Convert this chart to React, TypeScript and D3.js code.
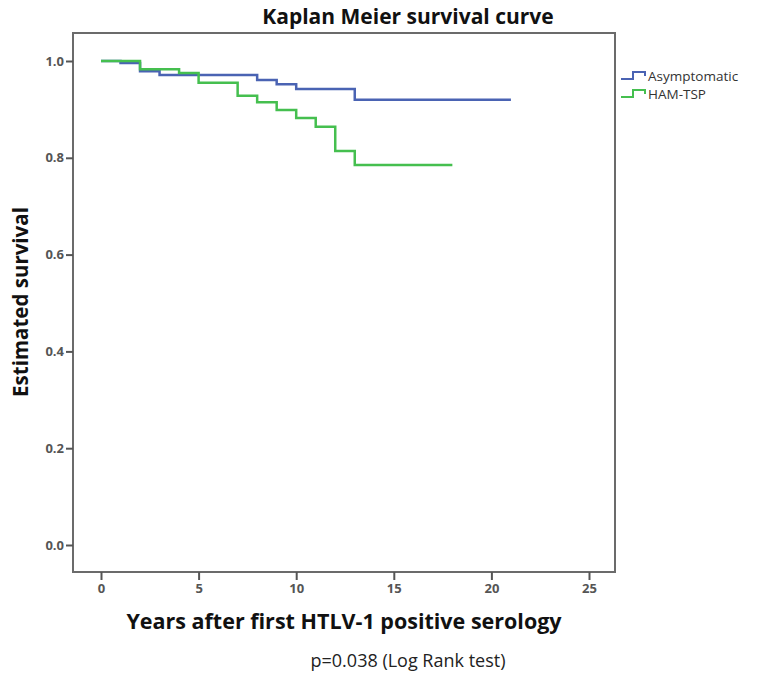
import { useEffect, useRef } from "react";
import * as d3 from "d3";

// Kaplan-Meier step values (time in years, survival)
const asymTimes = [0, 1, 2, 3, 8, 9, 10, 13, 21];
const asymSurv = [1.0, 0.996, 0.979, 0.971, 0.961, 0.952, 0.942, 0.92, 0.92];

const hamTimes = [0, 2, 4, 5, 7, 8, 9, 10, 11, 12, 13, 18];
const hamSurv = [
  1.0, 0.983, 0.975, 0.955, 0.928, 0.915, 0.899, 0.882, 0.864, 0.814, 0.785,
  0.785,
];

const xTicks = [0, 5, 10, 15, 20, 25];
const yTicks = [0, 0.2, 0.4, 0.6, 0.8, 1.0];

const groups = [
  { name: "Asymptomatic", color: "#4a63b3", times: asymTimes, surv: asymSurv },
  { name: "HAM-TSP", color: "#45bf4f", times: hamTimes, surv: hamSurv },
];

const FONT = "'Open Sans', 'DejaVu Sans', sans-serif";

export default function App() {
  const svgRef = useRef<SVGSVGElement>(null);

  useEffect(() => {
    if (!svgRef.current) return;
    const svg = d3.select(svgRef.current);
    svg.selectAll("*").remove();

    const box = { left: 73, right: 615, top: 33, bottom: 572 };

    const x = d3.scaleLinear().domain([0, 25]).range([101, 589]);
    const y = d3.scaleLinear().domain([0, 1]).range([545, 61]);

    // plot frame
    svg
      .append("rect")
      .attr("x", box.left)
      .attr("y", box.top)
      .attr("width", box.right - box.left)
      .attr("height", box.bottom - box.top)
      .attr("fill", "none")
      .attr("stroke", "#6b6b6b")
      .attr("stroke-width", 2);

    // left axis ticks
    const yAxis = svg
      .append("g")
      .attr("transform", `translate(${box.left},0)`)
      .call(
        d3
          .axisLeft(y)
          .tickValues(yTicks)
          .tickSize(7)
          .tickPadding(2)
          .tickFormat(d3.format(".1f"))
      );
    yAxis.select(".domain").remove();
    yAxis.selectAll("line").attr("stroke", "#555").attr("stroke-width", 2);
    yAxis
      .selectAll("text")
      .attr("fill", "#555")
      .attr("font-family", FONT)
      .attr("font-weight", "bold")
      .attr("font-size", 13);

    // bottom axis ticks
    const xAxis = svg
      .append("g")
      .attr("transform", `translate(0,${box.bottom})`)
      .call(d3.axisBottom(x).tickValues(xTicks).tickSize(8).tickPadding(4));
    xAxis.select(".domain").remove();
    xAxis.selectAll("line").attr("stroke", "#555").attr("stroke-width", 2);
    xAxis
      .selectAll("text")
      .attr("fill", "#555")
      .attr("font-family", FONT)
      .attr("font-weight", "bold")
      .attr("font-size", 13);

    // survival curves
    const line = d3
      .line<[number, number]>()
      .x((d) => x(d[0]))
      .y((d) => y(d[1]))
      .curve(d3.curveStepAfter);

    groups.forEach((g) => {
      const pts = g.times.map((t, i) => [t, g.surv[i]] as [number, number]);
      svg
        .append("path")
        .datum(pts)
        .attr("fill", "none")
        .attr("stroke", g.color)
        .attr("stroke-width", 2.5)
        .attr("d", line);
    });

    // legend
    const legend = svg.append("g").attr("transform", "translate(621,76)");
    groups.forEach((g, i) => {
      const row = legend.append("g").attr("transform", `translate(0,${i * 18})`);
      row
        .append("path")
        .attr("d", "M0,3 H12 V-4 H24 V0")
        .attr("fill", "none")
        .attr("stroke", g.color)
        .attr("stroke-width", 2);
      row
        .append("text")
        .attr("x", 27)
        .attr("y", 5)
        .attr("font-family", FONT)
        .attr("font-size", 13.5)
        .attr("fill", "#333")
        .text(g.name);
    });

    // titles
    svg
      .append("text")
      .attr("x", 408)
      .attr("y", 24)
      .attr("text-anchor", "middle")
      .attr("font-family", FONT)
      .attr("font-weight", "bold")
      .attr("font-size", 21)
      .attr("fill", "#111")
      .text("Kaplan Meier survival curve");

    svg
      .append("text")
      .attr("x", 344)
      .attr("y", 629)
      .attr("text-anchor", "middle")
      .attr("font-family", FONT)
      .attr("font-weight", "bold")
      .attr("font-size", 21.5)
      .attr("fill", "#111")
      .text("Years after first HTLV-1 positive serology");

    svg
      .append("text")
      .attr("transform", "translate(28,302) rotate(-90)")
      .attr("text-anchor", "middle")
      .attr("font-family", FONT)
      .attr("font-weight", "bold")
      .attr("font-size", 20.5)
      .attr("fill", "#111")
      .text("Estimated survival");

    svg
      .append("text")
      .attr("x", 408)
      .attr("y", 667)
      .attr("text-anchor", "middle")
      .attr("font-family", FONT)
      .attr("font-size", 18)
      .attr("fill", "#222")
      .text("p=0.038 (Log Rank test)");
  }, []);

  return (
    <svg
      ref={svgRef}
      width={760}
      height={679}
      style={{ position: "absolute", left: 0, top: 0, background: "#fff" }}
    />
  );
}
